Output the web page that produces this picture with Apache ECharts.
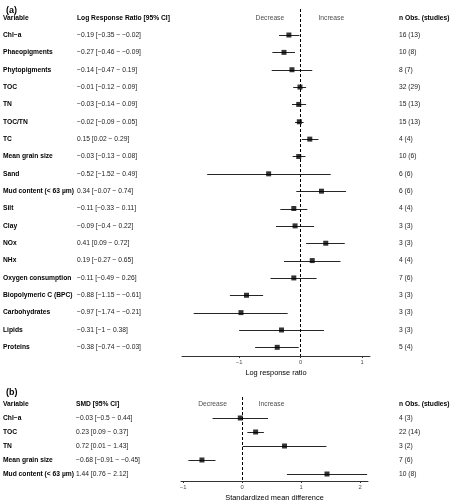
<!DOCTYPE html>
<html>
<head>
<meta charset="utf-8">
<script src="https://cdn.jsdelivr.net/npm/echarts@6/dist/echarts.min.js"></script>
<style>html,body{margin:0;padding:0;background:#fff}#c{width:450px;height:500px}</style>
</head>
<body>
<div id="c"></div>
<script>
// ---- Panel (a): Log response ratio ----
const catsA = ['Chl\u2212a','Phaeopigments','Phytopigments','TOC','TN','TOC/TN','TC','Mean grain size','Sand','Mud content (< 63 \u00b5m)','Silt','Clay','NOx','NHx','Oxygen consumption','Biopolymeric C (BPC)','Carbohydrates','Lipids','Proteins'];
const estA = [-0.19,-0.27,-0.14,-0.01,-0.03,-0.02,0.15,-0.03,-0.52,0.34,-0.11,-0.09,0.41,0.19,-0.11,-0.88,-0.97,-0.31,-0.38];
const loA  = [-0.35,-0.46,-0.47,-0.12,-0.14,-0.09,0.02,-0.13,-1.52,-0.07,-0.33,-0.4,0.09,-0.27,-0.49,-1.15,-1.74,-1,-0.74];
const hiA  = [-0.02,-0.09,0.19,0.09,0.09,0.05,0.29,0.08,0.49,0.74,0.11,0.22,0.72,0.65,0.26,-0.61,-0.21,0.38,-0.03];
const nObsA = [16,10,8,32,15,15,4,10,6,6,4,3,3,4,7,3,3,3,5];
const nStudA = [13,8,7,29,13,13,4,6,6,6,4,3,3,4,6,3,3,3,4];
const ticksA = [-1,0,1];

// ---- Panel (b): Standardized mean difference ----
const catsB = ['Chl\u2212a','TOC','TN','Mean grain size','Mud content (< 63 \u00b5m)'];
const estB = [-0.03,0.23,0.72,-0.68,1.44];
const loB  = [-0.5,0.09,0.01,-0.91,0.76];
const hiB  = [0.44,0.37,1.43,-0.45,2.12];
const nObsB = [4,22,3,7,10];
const nStudB = [3,14,2,6,8];
const ticksB = [-1,0,1,2];

const headersA = ['Variable','Log Response Ratio [95% CI]','n Obs. (studies)'];
const headersB = ['Variable','SMD [95% CI]','n Obs. (studies)'];
const effectLabels = ['Decrease','Increase'];
const axisTitles = ['Log response ratio','Standardized mean difference'];
const panelTags = ['(a)','(b)'];

const FONT = 'Liberation Sans, Arial, Helvetica, sans-serif';
const FS = 6.7;
const fmt = v => String(v).replace(/-/g,'\u2212');
const ciText = (e,l,h) => fmt(e) + ' [' + fmt(l) + ' \u2212 ' + fmt(h) + ']';

function panel(gi, cats, est, lo, hi, nO, nS, headers, ticks, xmin, xmax, title, mVar, mCi, mN) {
  const yData = [headers[0]].concat(cats);
  const ciCol = [headers[1]].concat(cats.map((c,i)=>ciText(est[i],lo[i],hi[i])));
  const nCol = [headers[2]].concat(cats.map((c,i)=>nO[i]+' ('+nS[i]+')'));
  const mkY = (pos, margin, col, bold) => ({
    type:'category', gridIndex: gi, data: yData, inverse: true, position: pos,
    axisLine:{show:false}, axisTick:{show:false}, splitLine:{show:false},
    axisLabel:{
      interval:0, margin: margin, align:'left', fontFamily: FONT, fontSize: FS,
      formatter: (v) => { const i = yData.indexOf(v); return i===0 ? '{h|'+col[i]+'}' : (bold ? '{h|'+col[i]+'}' : '{r|'+col[i]+'}'); },
      rich:{ h:{fontWeight:'bold', color:'#000', fontFamily:FONT, fontSize:FS}, r:{color:'#1a1a1a', fontFamily:FONT, fontSize:FS} }
    }
  });
  const yAxes = [mkY('left', mVar, yData, true), mkY('left', mCi, ciCol, false), mkY('right', mN, nCol, false)];
  const xAxis = {
    type:'value', gridIndex: gi, min: xmin, max: xmax,
    name: title, nameLocation:'middle', nameGap: 13,
    nameTextStyle:{fontFamily:FONT, fontSize:7.4, color:'#000'},
    axisLine:{show:true, onZero:false, lineStyle:{color:'#333', width:1}},
    axisTick:{show:true, length:2, customValues: ticks, lineStyle:{color:'#333'}},
    axisLabel:{customValues: ticks, margin:3, fontFamily:FONT, fontSize:5.8, color:'#4d4d4d', formatter: v => fmt(v)},
    splitLine:{show:false}
  };
  return {yAxes, xAxis};
}

const pa = panel(0, catsA, estA, loA, hiA, nObsA, nStudA, headersA, ticksA, -1.93, 1.13, axisTitles[0], 179, 105, 29);
const pb = panel(1, catsB, estB, loB, hiB, nObsB, nStudB, headersB, ticksB, -1.035, 2.135, axisTitles[1], 178, 105, 31);

function series(xi, yi, est, lo, hi) {
  const bars = lo.map((l,i)=>[l, hi[i], i+1]);
  const pts = est.map((e,i)=>[e, i+1]);
  return [
    {
      type:'custom', xAxisIndex: xi, yAxisIndex: yi, data: bars, encode:{x:[0,1], y:2},
      renderItem: (params, api) => {
        const y = api.value(2);
        const p1 = api.coord([api.value(0), y]);
        const p2 = api.coord([api.value(1), y]);
        return {type:'line', shape:{x1:p1[0], y1:Math.round(p1[1])+0.5, x2:p2[0], y2:Math.round(p2[1])+0.5}, style:{stroke:'#262626', lineWidth:1}};
      },
      silent:true, z:2
    },
    {
      type:'scatter', xAxisIndex: xi, yAxisIndex: yi, data: pts, symbol:'rect', symbolSize:5,
      itemStyle:{color:'#000'}, silent:true, z:3
    },
    {
      type:'scatter', xAxisIndex: xi, yAxisIndex: yi, data: [[-0.5,0],[0.5,0]], symbolSize:0, silent:true,
      label:{show:true, position:'inside', fontFamily:FONT, fontSize:FS, color:'#1a1a1a', formatter: p => effectLabels[p.dataIndex]},
      markLine:{silent:true, symbol:['none','none'], label:{show:false}, lineStyle:{color:'#000', type:[3,2], width:1}, data:[{xAxis:0}]},
      z:1
    }
  ];
}

const option = {
  animation:false,
  backgroundColor:'#fff',
  title:[
    {text: panelTags[0], left:1, top:1, textStyle:{fontFamily:FONT, fontSize:9, fontWeight:'bold', color:'#000'}},
    {text: panelTags[1], left:1, top:383, textStyle:{fontFamily:FONT, fontSize:9, fontWeight:'bold', color:'#000'}}
  ],
  grid:[
    {left:182, right:80, top:9, height:347, containLabel:false, outerBoundsMode:'none'},
    {left:181, right:82, top:397, height:84, containLabel:false, outerBoundsMode:'none'}
  ],
  xAxis:[pa.xAxis, pb.xAxis],
  yAxis: pa.yAxes.concat(pb.yAxes),
  series: series(0,0,estA,loA,hiA).concat(series(1,3,estB,loB,hiB))
};

const chart = echarts.init(document.getElementById('c'), null, {renderer:'canvas'});
chart.setOption(option);
</script>
</body>
</html>
